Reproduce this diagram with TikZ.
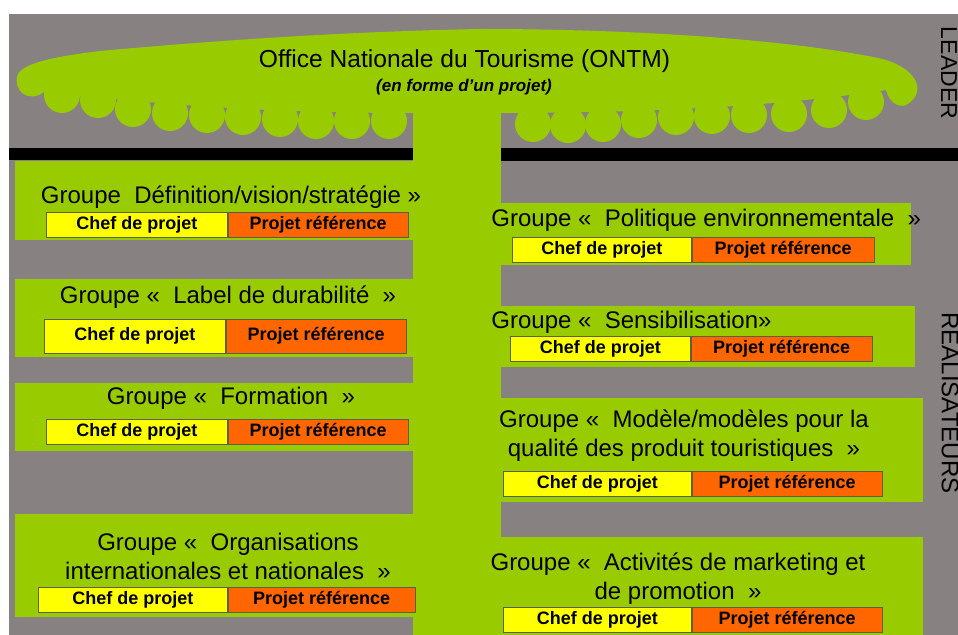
\documentclass[tikz,border=0pt]{standalone}
\usepackage{fontspec}
\setmainfont{Liberation Sans}
\usetikzlibrary{positioning}
\definecolor{Feuille}{HTML}{99CC00}
\definecolor{Ardoise}{HTML}{878181}
\definecolor{Citron}{HTML}{FFFF00}
\definecolor{Corail}{HTML}{FF6600}
\definecolor{Bord}{HTML}{5E5E40}
\tikzset{
  groupe titre/.style={align=center,inner sep=0pt,font=\fontsize{12}{14.5}\selectfont},
  chef/.style={draw=Bord,thin,fill=Citron,minimum height=12.5pt,minimum width=90.5pt,
    inner sep=0pt,font=\bfseries\fontsize{9}{10}\selectfont},
  reference/.style={chef,fill=Corail,minimum width=90pt},
  cote/.style={rotate=-90,inner sep=0pt,font=\fontsize{11.5}{12}\selectfont}
}

\begin{document}
\begin{tikzpicture}[x=0.5pt,y=-0.5pt]
  \useasboundingbox (0,0) rectangle (958,635);
  \fill[Ardoise] (9,14) rectangle (958,635);
  % toit de l'ONTM
  \fill[Feuille] (44,92) .. controls (28,104) and (12,90) .. (18,74)
    .. controls (25,62) and (60,56) .. (100,51)
    .. controls (200,42) and (330,32) .. (480,29)
    .. controls (640,29) and (790,40) .. (878,58)
    .. controls (915,66) and (928,90) .. (908,104)
    .. controls (898,110) and (888,100) .. (886,90)
    .. controls (780,106) and (650,113) .. (501,113) -- (413,113)
    .. controls (250,113) and (150,103) .. (44,92) -- cycle;
  \foreach \cx/\by in {62/113,98/118,133/127,170/131,207/133,243/135,280/137,
      316/139,352/139,389/139,533/142,568/143,603/142,639/138,676/135,712/134,
      749/133,789/132,829/128,866/120}
    \fill[Feuille] (\cx,\by-18) circle (9pt);
  \fill[Feuille] (413,100) rectangle (501,635);
  \fill[black] (9,148) rectangle (413,160);
  \fill[black] (501,148) rectangle (958,161);
  \node[inner sep=0pt,font=\fontsize{12.3}{14}\selectfont] (ontm) at (464.5,61)
    {Office Nationale du Tourisme (ONTM)};
  \node[inner sep=0pt,font=\bfseries\itshape\fontsize{8.5}{10}\selectfont] (forme) at (464,87)
    {(en forme d'un projet)};
  \node[cote] (leader) at (949,73) {LEADER};
  \node[cote,font=\fontsize{12}{12}\selectfont] (realisateurs) at (950,403) {REALISATEURS};

  % groupes de gauche
  \fill[Feuille] (15,161) rectangle (413,240);
  \fill[Feuille] (15,279) rectangle (413,357);
  \fill[Feuille] (15,383) rectangle (413,451);
  \fill[Feuille] (15,514) rectangle (413,617);
  \node[groupe titre] (strategie) at (231,197) {Groupe~~Définition/vision/stratégie~»};
  \node[chef,anchor=west] (chef1) at (46,224.5) {Chef de projet};
  \node[reference,right=0pt of chef1] (ref1) {Projet référence};
  \node[groupe titre] (label) at (228,297) {Groupe «~~Label de durabilité~~»};
  \node[chef,anchor=west,minimum height=17pt] (chef2) at (44,336) {Chef de projet};
  \node[reference,right=0pt of chef2,minimum height=17pt] (ref2) {Projet référence};
  \node[groupe titre] (formation) at (231,398) {Groupe «~~Formation~~»};
  \node[chef,anchor=west] (chef3) at (46,432) {Chef de projet};
  \node[reference,right=0pt of chef3] (ref3) {Projet référence};
  \node[groupe titre] (organisations) at (228,556.5)
    {Groupe «~~Organisations\\internationales et nationales~~»};
  \node[chef,anchor=west,minimum width=94.5pt] (chef4) at (38,599.5) {Chef de projet};
  \node[reference,right=0pt of chef4,minimum width=93.5pt] (ref4) {Projet référence};

  % groupes de droite
  \fill[Feuille] (501,203) rectangle (911,265);
  \fill[Feuille] (501,306) rectangle (915,367);
  \fill[Feuille] (501,398) rectangle (923,502);
  \fill[Feuille] (501,537) rectangle (923,635);
  \node[groupe titre,anchor=west] (politique) at (491,220)
    {Groupe «~~Politique environnementale~~»};
  \node[chef,anchor=west,minimum width=89.5pt] (chef5) at (512,250) {Chef de projet};
  \node[reference,right=0pt of chef5,minimum width=91pt] (ref5) {Projet référence};
  \node[groupe titre,anchor=west] (sensibilisation) at (491,322)
    {Groupe «~~Sensibilisation»};
  \node[chef,anchor=west,minimum width=90pt] (chef6) at (510,349) {Chef de projet};
  \node[reference,right=0pt of chef6,minimum width=90.5pt] (ref6) {Projet référence};
  \node[groupe titre] (modeles) at (684,436)
    {Groupe «~~Modèle/modèles pour la\\qualité des produit touristiques~~»};
  \node[chef,anchor=west,minimum width=94pt] (chef7) at (503,483.5) {Chef de projet};
  \node[reference,right=0pt of chef7,minimum width=95pt] (ref7) {Projet référence};
  \node[groupe titre] (marketing) at (678,579)
    {Groupe «~~Activités de marketing et\\de promotion~~»};
  \node[chef,anchor=west,minimum width=94pt] (chef8) at (503,619.5) {Chef de projet};
  \node[reference,right=0pt of chef8,minimum width=95pt] (ref8) {Projet référence};
\end{tikzpicture}
\end{document}
